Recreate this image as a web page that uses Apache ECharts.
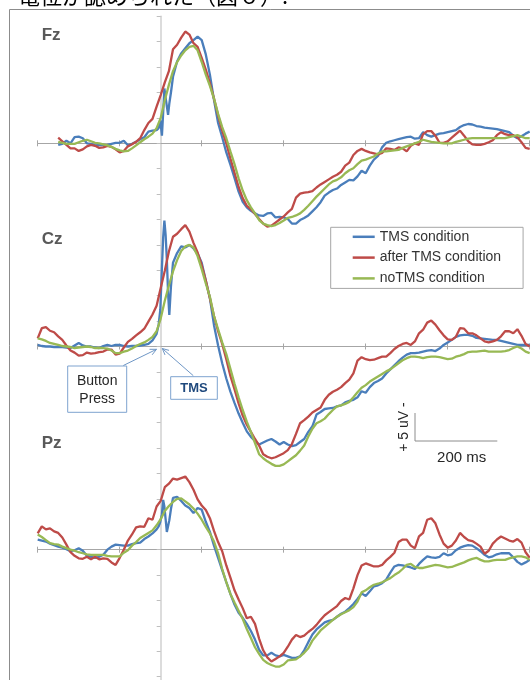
<!DOCTYPE html>
<html><head><meta charset="utf-8">
<script src="https://cdn.jsdelivr.net/npm/echarts@6/dist/echarts.min.js"></script>
<style>html,body{margin:0;padding:0;background:#fff}#c{width:530px;height:680px}</style>
</head><body><div id="c"></div>
<script>
// ---- data (ms, µV) ----
const times = [-300,-290,-280,-270,-260,-250,-240,-230,-220,-210,-200,-190,-180,-170,-160,-150,-140,-130,-120,-110,-100,-90,-80,-70,-60,-50,-40,-30,-20,-10,
0,10,20,30,40,50,60,70,80,90,100,110,120,130,140,150,160,170,180,190,200,210,220,230,240,250,260,270,280,290,300,310,320,330,340,350,360,370,380,390,
400,410,420,430,440,450,460,470,480,490,500,510,520,530,540,550,560,570,580,590,600,610,620,630,640,650,660,670,680,690,700,710,720,730,740,750,760,770,780,790,
800,810,820,830,840,850,860,870,880,890,900];
const tmsTimes = [-300,-290,-280,-270,-260,-250,-240,-230,-220,-210,-200,-190,-180,-170,-160,-150,-140,-130,-120,-110,-100,-90,-80,-70,-60,-50,-40,-30,-20,-10,
-5,-1,3,6,9,12,15,18,21,25,
30,40,50,60,70,80,90,100,110,120,130,140,150,160,170,180,190,200,210,220,230,240,250,260,270,280,290,300,310,320,330,340,350,360,370,380,390,
400,410,420,430,440,450,460,470,480,490,500,510,520,530,540,550,560,570,580,590,600,610,620,630,640,650,660,670,680,690,700,710,720,730,740,750,760,770,780,790,
800,810,820,830,840,850,860,870,880,890,900];

const seriesNames = ['TMS condition', 'after TMS condition', 'noTMS condition'];
const panelNames = ['Fz', 'Cz', 'Pz'];

// Fz
const fzTMS = [null,null,null,null,null,-0.3,-0.1,0.5,0,1.2,
1.3,1.0,0,-0.1,-0.4,-0.3,-0.4,-0.3,-0.1,0.1,
0.1,0.5,-0.4,-0.1,0.3,0.8,1.2,2.3,2.5,2.6,
3.0,4.5,1.5,6.0,10.8,9.0,7.3,5.6,7.8,10.0,
13.1,16.1,17.7,18.7,19.7,20.3,21.0,20.3,17.5,13.5,
8.5,4.0,1.2,-1.8,-4.2,-6.8,-9.5,-11.5,-12.6,-13.3,
-13.8,-14.2,-14.3,-13.8,-13.7,-14.6,-14.5,-14.6,-14.9,-15.8,
-15.8,-15.1,-14.7,-14.2,-13.4,-12.6,-11.6,-10.3,-9.7,-9.2,
-8.9,-8.2,-7.7,-7.2,-7.3,-6.5,-5.4,-5.9,-4.4,-3.2,
-2.5,-0.8,0.1,0.4,0.6,0.8,1.0,1.2,1.3,0.9,
1.0,2.2,1.6,1.3,1.6,1.9,2.0,2.2,2.4,2.6,
3.2,3.6,3.8,3.7,3.4,3.3,3.1,3.0,2.9,2.8,
2.6,2.4,2.2,1.5,1.0,1.4,1.9,2.3];
const fzAfter = [null,null,null,null,null,1.1,0.4,-0.3,-1.0,-1.0,
-1.5,-1.2,-0.6,-0.3,-0.5,-0.9,-0.8,-0.5,-0.7,-1.2,
-1.8,-1.5,-0.6,-0.2,0.3,1.0,2.6,4.0,4.8,7.2,
9.5,12.0,14.2,18.5,19.4,20.8,22.0,21.4,19.7,19.0,
16.8,14.5,11.8,8.8,5.5,2.5,0,-3.0,-5.8,-8.6,
-10.8,-12.3,-13.0,-13.9,-14.9,-15.8,-16.4,-16.2,-15.6,-15.0,
-14.4,-13.6,-12.9,-10.7,-9.9,-9.7,-9.6,-9.4,-8.7,-8.1,
-7.6,-7.1,-6.6,-6.2,-5.6,-4.4,-3.8,-2.3,-1.5,-1.1,
-1.5,-1.8,-2.0,-2.2,-1.9,-1.0,-1.1,-1.3,-0.8,-1.0,
-1.6,-0.5,0,-0.3,1.8,2.4,2.4,1.5,0.1,0.1,
0.4,1.1,1.8,2.5,1.5,0.4,-0.2,-0.3,-0.3,-0.1,
0.2,0.6,1.6,2.2,1.8,1.6,1.6,1.2,0.2,-0.9,
-1.1];
const fzNo = [null,null,null,null,null,0.3,0.1,-0.1,-0.1,-0.1,
0.2,0.5,0.7,0.4,0.1,0,-0.2,-0.4,-0.7,-1.1,
-1.4,-1.6,-1.5,-1.0,-0.4,0.2,0.8,1.3,1.9,3.0,
5.0,8.5,11.5,14.2,16.0,17.3,18.3,19.0,19.2,18.3,
16.0,13.5,11.3,8.8,5.8,3.2,1.0,-1.6,-4.1,-6.9,
-9.3,-11.2,-12.6,-13.8,-15.1,-15.8,-16.1,-16.3,-16.1,-15.7,
-15.2,-14.7,-14.5,-14.2,-13.8,-13.1,-12.3,-11.4,-10.5,-9.7,
-8.9,-8.1,-7.5,-7.2,-6.7,-5.9,-5.3,-4.9,-4.1,-3.4,
-3.2,-2.9,-2.6,-2.0,-1.6,-1.6,-1.5,-1.4,-1.3,-0.9,
-0.6,-0.3,0,0.3,0.7,0.5,0.3,0.2,0.1,0,
0,0,0.3,0.5,0.7,0.9,1.0,1.0,1.0,1.0,
1.0,1.0,1.0,1.0,1.0,1.2,1.4,1.6,1.3,1.0,
1.0];

// Cz
const czTMS = [0.3,0.1,0,0,-0.1,-0.1,-0.1,-0.2,-0.3,0.2,
0.7,0.2,0,0,-0.2,-0.3,0.1,0.3,0.1,0.3,
0.3,0.1,0,0.1,0.1,0.2,0.3,0.5,1.2,2.5,
4.3,7.2,15.5,21.5,24.8,22.0,17.1,10.5,6.2,11.8,
16.5,18.4,19.7,19.5,20.0,19.3,18.3,16.5,13.0,9.5,
4.2,0.2,-3.3,-6.3,-8.9,-11.1,-13.2,-15.0,-16.7,-17.8,
-18.6,-19.3,-18.9,-18.5,-18.2,-18.7,-19.3,-18.8,-19.3,-19.6,
-19.4,-18.8,-18.2,-16.8,-15.7,-13.4,-12.9,-12.3,-12.2,-12.1,
-11.8,-11.6,-11.0,-10.7,-10.5,-10.0,-8.8,-9.1,-8.0,-7.2,
-6.8,-6.3,-5.3,-4.5,-3.7,-2.9,-2.2,-1.6,-1.3,-1.3,
-1.2,-1.0,-0.8,-0.7,-0.9,-0.4,0.3,0.8,1.3,1.9,
2.2,2.3,2.3,2.1,1.7,1.6,1.5,1.4,1.3,1.3,
1.1,0.9,0.7,0.5,0.3,0.3,0.3,0.3];
const czAfter = [1.6,3.6,3.8,3.1,2.8,2.0,1.3,0.2,-0.8,-1.2,
-1.8,-1.7,-1.2,-1.4,-1.3,-1.1,-1.0,-0.6,-0.6,-1.6,
-1.4,-0.2,0.9,1.5,2.2,2.8,3.5,4.9,6.3,8.0,
11.5,14.9,18.7,21.6,22.2,23.1,23.9,22.6,20.4,18.5,
16.0,13.0,9.5,6.0,3.0,0.5,-2.5,-5.8,-8.4,-11.2,
-13.6,-15.4,-16.8,-18.2,-19.5,-21.2,-21.7,-22.0,-21.8,-21.4,
-21.0,-20.4,-19.2,-17.2,-15.1,-14.5,-13.8,-13.0,-12.5,-12.0,
-10.5,-9.5,-8.9,-8.5,-8.0,-7.2,-6.5,-5.3,-2.8,-2.1,
-2.5,-2.7,-2.6,-2.3,-2.0,-2.0,-1.3,-0.5,0.1,0.5,
0.7,0.3,1.0,2.6,3.3,4.7,5.1,4.3,3.2,2.2,
1.4,1.3,1.9,3.6,3.5,2.6,2.6,2.2,1.6,1.0,
0.8,1.0,1.3,2.0,3.0,3.0,2.6,3.4,2.1,0.5,
0];
const czNo = [1.6,1.4,1.1,0.7,0.5,0.3,0.1,0,-0.1,-0.3,
-0.2,-0.1,0,-0.1,-0.3,-0.3,-0.3,-0.4,-0.8,-1.3,
-1.3,-1.0,-0.8,-0.4,0.1,0.5,0.8,1.3,1.9,3.0,
5.5,9.0,12.0,14.8,17.0,18.8,19.7,20.0,19.5,17.8,
15.2,12.4,9.8,6.0,3.4,0.8,-1.5,-4.4,-7.3,-10.0,
-12.5,-14.8,-16.8,-19.0,-21.2,-22.0,-22.6,-23.1,-23.5,-23.5,
-23.2,-22.6,-22.0,-21.4,-20.5,-19.5,-17.7,-16.2,-15.1,-14.7,
-14.2,-13.3,-12.5,-11.8,-11.6,-11.3,-10.9,-10.0,-9.0,-8.1,
-7.6,-6.9,-6.4,-5.9,-5.4,-4.9,-4.5,-3.9,-3.3,-2.7,
-2.3,-2.0,-2.0,-2.1,-2.3,-2.1,-2.0,-2.0,-2.1,-2.3,
-2.5,-2.4,-2.0,-1.8,-1.5,-1.1,-1.0,-1.0,-0.9,-0.8,
-1.0,-1.0,-1.0,-1.0,-0.9,-0.7,-0.3,0,-0.4,-1.0,
-1.3];

// Pz
const pzTMS = [2.0,1.8,1.6,1.2,0.9,0.6,0.4,0.1,-0.3,-0.1,
0.3,-0.2,-1.2,-1.4,-1.6,-1.4,-1.0,0,0.6,1.0,
0.9,0.8,0.8,1.1,1.3,1.4,2.1,2.6,3.2,4.0,
4.6,5.5,7.0,9.8,8.5,6.0,3.5,3.2,5.8,8.0,
10.2,10.4,9.6,8.7,8.2,7.2,8.2,7.9,5.5,3.5,
0.8,-1.6,-4.0,-6.4,-8.7,-10.8,-12.4,-13.4,-14.6,-16.0,
-17.7,-19.7,-20.8,-20.8,-20.3,-20.8,-21.0,-20.7,-21.0,-21.3,
-21.3,-21.0,-19.8,-18.2,-16.7,-15.7,-15.0,-14.3,-14.0,-13.8,
-13.2,-12.6,-12.2,-11.5,-10.7,-9.7,-8.6,-9.1,-8.2,-7.2,
-7.0,-6.6,-5.9,-4.5,-3.3,-3.0,-3.1,-3.3,-3.5,-3.8,
-2.8,-2.0,-1.3,-1.5,-1.6,-1.4,-0.7,-1.1,-0.9,-0.1,
0.4,0.7,0.9,0.8,0.3,-0.3,-1.0,-1.5,-1.3,-0.9,
-0.7,-0.7,-0.7,-1.5,-2.4,-2.9,-2.5,-2.0];
const pzAfter = [3.2,4.6,4.0,4.2,3.6,3.3,2.4,1.0,-0.5,-1.2,
-1.7,-1.8,-1.4,-1.9,-1.4,-1.9,-1.7,-1.8,-2.5,-3.0,
-1.6,0.0,1.8,3.0,4.4,4.6,4.5,6.2,5.9,8.5,
9.6,12.3,13.0,14.0,13.8,14.1,14.4,13.3,11.8,9.9,
8.7,7.8,6.2,3.7,1.5,-0.3,-3.1,-5.5,-8.0,-9.8,
-11.5,-13.5,-13.2,-14.6,-17.5,-19.8,-21.2,-22.0,-21.5,-21.0,
-20.3,-19.1,-17.7,-16.8,-17.2,-16.9,-16.2,-15.6,-14.8,-13.8,
-12.9,-12.3,-11.7,-11.1,-10.1,-9.5,-9.8,-7.6,-5.0,-3.1,
-2.7,-3.0,-3.3,-3.3,-3.0,-2.1,-1.4,-0.6,1.5,2.0,
2.0,0.8,0.3,2.6,3.3,5.9,6.2,5.2,3.0,1.2,
0.4,0.8,1.8,3.3,2.5,1.9,1.7,1.2,0.6,-0.8,
-0.2,1.2,2.0,2.6,2.2,1.8,1.6,2.1,1.4,-0.5,
-1.6];
const pzNo = [3.0,2.5,1.9,1.3,1.1,1.0,0.6,0.3,0,-0.2,
-0.5,-0.7,-0.9,-1.0,-1.0,-1.0,-1.0,-1.2,-1.3,-1.3,
-1.3,-0.6,-0.1,0.8,1.5,2.3,2.8,3.3,3.8,4.8,
6.0,7.6,8.6,9.4,10.0,10.1,9.5,8.9,8.1,7.1,
5.9,4.5,3.2,1.6,-0.7,-3.8,-6.4,-8.7,-10.4,-12.0,
-13.6,-15.6,-17.4,-19.2,-20.5,-21.7,-22.3,-22.7,-23.0,-23.0,
-22.6,-21.8,-21.7,-21.6,-21.0,-20.3,-19.4,-17.9,-16.9,-15.9,
-15.2,-14.5,-13.8,-13.2,-12.7,-12.3,-11.9,-11.3,-10.2,-8.4,
-8.0,-7.4,-6.9,-6.7,-6.4,-6.0,-5.6,-5.0,-4.5,-3.8,
-3.0,-2.8,-3.4,-3.6,-3.6,-3.4,-3.2,-3.0,-3.1,-3.3,
-3.5,-3.4,-3.1,-2.8,-2.5,-2.1,-1.8,-1.6,-2.0,-2.3,
-2.3,-2.1,-2.0,-2.0,-2.0,-1.7,-1.5,-1.3,-1.3,-1.5,
-2.0];

const panels = [
  {tms: fzTMS, after: fzAfter, no: fzNo},
  {tms: czTMS, after: czAfter, no: czNo},
  {tms: pzTMS, after: pzAfter, no: pzNo}
];
// each panel's y window (µV) so that the three traces stack at 40 µV spacing
const yMin = [-110, -70, -30];
const yMax = [25, 65, 105];

const colors = ['#4A7EBB', '#BE4B48', '#98B954'];
const FONT = '"Liberation Sans", Arial, sans-serif';

function pairs(ts, vs) { return ts.map((t, i) => [t, vs[i]]); }

const grids = [], xAxes = [], yAxes = [], series = [];
for (let k = 0; k < 3; k++) {
  grids.push({left: 37.7, top: 16.3, width: 492, height: 685.8, outerBoundsMode: 'none', containLabel: false});
  const common = {gridIndex: k, type: 'value', min: -300, max: 900, interval: 200,
    axisLabel: {show: false}, splitLine: {show: false}};
  xAxes.push(Object.assign({}, common, {position: 'bottom',
    axisLine: {show: true, onZero: true, onZeroAxisIndex: k, lineStyle: {color: '#a6a6a6', width: 1}},
    axisTick: {show: true, length: 3, lineStyle: {color: '#a6a6a6', width: 1}}}));
  xAxes.push(Object.assign({}, common, {position: 'top',
    axisLine: {show: false, onZero: true, onZeroAxisIndex: k},
    axisTick: {show: true, length: 3, lineStyle: {color: '#a6a6a6', width: 1}}}));
  yAxes.push({gridIndex: k, type: 'value', min: yMin[k], max: yMax[k], interval: 5,
    axisLine: {show: k === 2, onZero: true, lineStyle: {color: '#d0d0d0', width: 1.5}},
    axisTick: {show: k === 2, length: 4, lineStyle: {color: '#bfbfbf', width: 1}},
    axisLabel: {show: false}, splitLine: {show: false}});
  const p = panels[k];
  const dataSets = [pairs(tmsTimes, p.tms), pairs(times, p.after), pairs(times, p.no)];
  for (let s = 0; s < 3; s++) {
    series.push({name: seriesNames[s], type: 'line', xAxisIndex: 2 * k, yAxisIndex: k,
      data: dataSets[s], showSymbol: false, symbol: 'none', connectNulls: false,
      lineStyle: {color: colors[s], width: 2.3}, itemStyle: {color: colors[s]},
      z: 3 + s, animation: false});
  }
}

// annotations
function arrow(x1, y1, x2, y2, color) {
  const a = Math.atan2(y2 - y1, x2 - x1), L = 7, w = 0.45;
  const p1 = [x2 - L * Math.cos(a - w), y2 - L * Math.sin(a - w)];
  const p2 = [x2 - L * Math.cos(a + w), y2 - L * Math.sin(a + w)];
  return [
    {type: 'line', shape: {x1, y1, x2, y2}, style: {stroke: color, lineWidth: 1}, silent: true, z: 20},
    {type: 'polyline', shape: {points: [p1, [x2, y2], p2]}, style: {stroke: color, lineWidth: 1, fill: null}, silent: true, z: 20}
  ];
}
const boxColor = '#7EA3CF';
const graphics = [
  {type: 'rect', shape: {x: 9.5, y: 9.5, width: 640, height: 720}, style: {fill: null, stroke: '#8c8c8c', lineWidth: 1}, silent: true, z: 0},
  {type: 'text', x: 18, y: -15, style: {text: '電位が認められた（図６）.', font: '22px "Noto Sans CJK JP"', fill: '#000'}, silent: true, z: 20},
  {type: 'text', x: 41.7, y: 35.8, style: {text: panelNames[0], font: 'bold 17px ' + FONT, fill: '#595959', verticalAlign: 'middle'}, z: 20},
  {type: 'text', x: 41.7, y: 239.2, style: {text: panelNames[1], font: 'bold 17px ' + FONT, fill: '#595959', verticalAlign: 'middle'}, z: 20},
  {type: 'text', x: 41.7, y: 443, style: {text: panelNames[2], font: 'bold 17px ' + FONT, fill: '#595959', verticalAlign: 'middle'}, z: 20},
  // Button Press callout
  {type: 'rect', shape: {x: 67.7, y: 366, width: 59, height: 46.3}, style: {fill: '#fff', stroke: boxColor, lineWidth: 1}, z: 20},
  {type: 'text', x: 97.2, y: 380.7, style: {text: 'Button', font: '14px ' + FONT, fill: '#262626', align: 'center', verticalAlign: 'middle'}, z: 21},
  {type: 'text', x: 97.2, y: 399, style: {text: 'Press', font: '14px ' + FONT, fill: '#262626', align: 'center', verticalAlign: 'middle'}, z: 21},
  ...arrow(123.3, 365.5, 156.5, 349.3, '#6f97c6'),
  // TMS callout
  {type: 'rect', shape: {x: 170.7, y: 376.7, width: 46.6, height: 22.6}, style: {fill: '#fff', stroke: boxColor, lineWidth: 1}, z: 20},
  {type: 'text', x: 194, y: 388.3, style: {text: 'TMS', font: 'bold 13px ' + FONT, fill: '#1F497D', align: 'center', verticalAlign: 'middle'}, z: 21},
  ...arrow(193.3, 375.7, 162.3, 348.5, '#6f97c6'),
  // scale bar
  {type: 'polyline', shape: {points: [[415, 413], [415, 441], [497.3, 441]]}, style: {stroke: '#8c8c8c', lineWidth: 1, fill: null}, z: 20},
  {type: 'text', x: 404, y: 427, rotation: Math.PI / 2, style: {text: '+ 5 uV -', font: '14px ' + FONT, fill: '#262626', align: 'center', verticalAlign: 'middle'}, z: 20},
  {type: 'text', x: 461.7, y: 458, style: {text: '200 ms', font: '15px ' + FONT, fill: '#262626', align: 'center', verticalAlign: 'middle'}, z: 20}
];

const chart = echarts.init(document.getElementById('c'), null, {renderer: 'canvas'});
chart.setOption({
  animation: false,
  backgroundColor: '#fff',
  grid: grids,
  xAxis: xAxes,
  yAxis: yAxes,
  legend: {
    data: seriesNames, orient: 'vertical', left: 330.7, top: 227.3,
    padding: [2.5, 22, 3, 22], itemGap: 6.8, itemWidth: 22, itemHeight: 2.5, icon: 'rect',
    borderColor: '#a6a6a6', borderWidth: 1, backgroundColor: '#fff', selectedMode: false,
    textStyle: {fontFamily: FONT, fontSize: 14, color: '#333', lineHeight: 14}, z: 20
  },
  tooltip: {show: false},
  series: series,
  graphic: graphics
});
</script>
</body></html>
